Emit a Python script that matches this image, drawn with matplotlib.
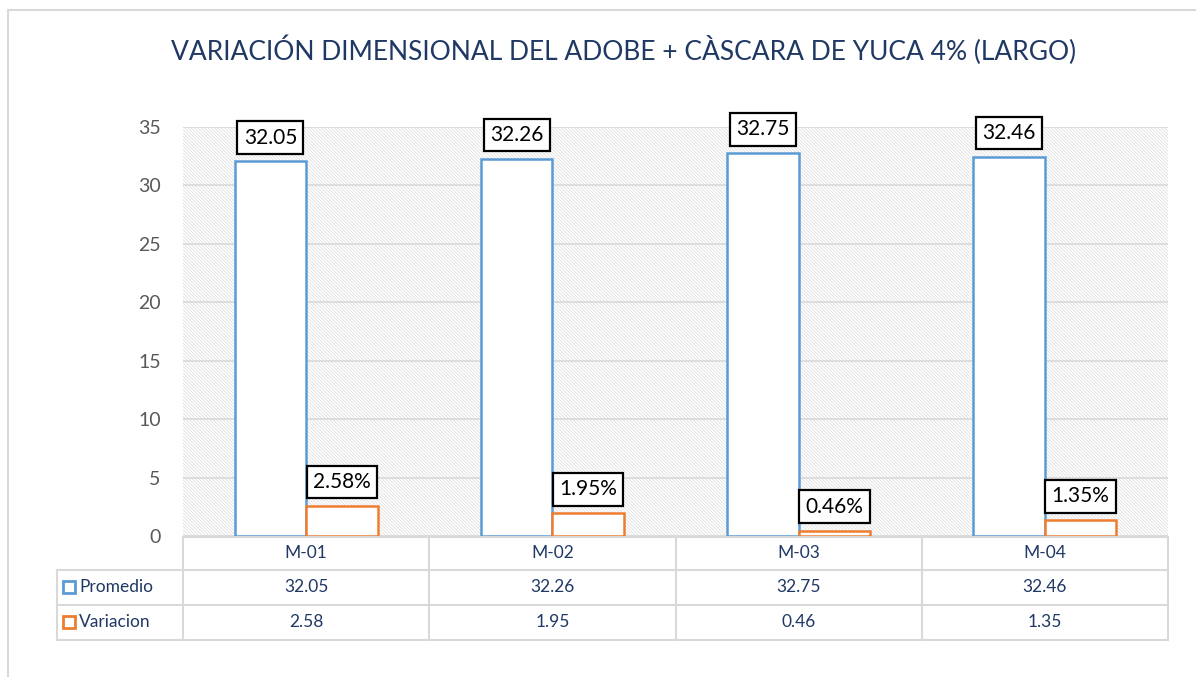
import matplotlib as mpl
import matplotlib.pyplot as plt
import matplotlib.patches as patches
import matplotlib.lines as lines
import numpy as np

# -----------------------------------------------------------------------------
# Data.
# -----------------------------------------------------------------------------

muestras = ["M-01", "M-02", "M-03", "M-04"]
promedio = [32.05, 32.26, 32.75, 32.46]
variacion = [2.58, 1.95, 0.46, 1.35]
series_names = ["Promedio", "Variacion"]

title = "VARIACIÓN DIMENSIONAL DEL ADOBE + CÀSCARA DE YUCA 4% (LARGO)"

blue = "#5B9BD5"
orange = "#ED7D31"
navy = "#1F3864"
grid = "#D9D9D9"

mpl.rcParams["font.family"] = ["Lato", "DejaVu Sans"]
mpl.rcParams["hatch.linewidth"] = 0.5

fig = plt.figure(figsize=(11.96, 6.77), dpi=100)
ax = fig.add_axes([183 / 1196, 1 - 536 / 677, 985 / 1196, 409 / 677])

# chart area border (left and top visible)
fig.patches.append(patches.Rectangle(
    (8 / 1196, -0.1), 1.2, 1 - 10 / 677 + 0.1,
    transform=fig.transFigure, fill=False, edgecolor=grid, linewidth=1.5))

# hatched plot area
ax.add_patch(patches.Rectangle(
    (0, 0), 1, 1, transform=ax.transAxes, facecolor="white",
    edgecolor="#DADADA", hatch="\\" * 10, linewidth=0, zorder=0))

x = np.arange(len(muestras))
w = 0.29
b1 = ax.bar(x - w / 2, promedio, w, facecolor="white", edgecolor=blue,
            linewidth=1.8, zorder=3)
b2 = ax.bar(x + w / 2, variacion, w, facecolor="white", edgecolor=orange,
            linewidth=1.8, zorder=3)

box = dict(boxstyle="square,pad=0.3", facecolor="white", edgecolor="black",
           linewidth=1.6)
for rect, v in zip(b1, promedio):
    ax.annotate("{:.2f}".format(v), (rect.get_x() + rect.get_width() / 2, v),
                xytext=(0, 10), textcoords="offset points", ha="center",
                va="bottom", fontsize=15, bbox=box, zorder=5)
for rect, v in zip(b2, variacion):
    ax.annotate("{:.2f}%".format(v), (rect.get_x() + rect.get_width() / 2, v),
                xytext=(0, 10), textcoords="offset points", ha="center",
                va="bottom", fontsize=15, bbox=box, zorder=5)

ax.set_xlim(-0.5, len(muestras) - 0.5)
ax.set_ylim(0, 35)
ax.set_yticks(range(0, 36, 5))
ax.tick_params(axis="y", length=0, pad=16, labelsize=14, labelcolor="#595959")
ax.set_xticks([])
ax.grid(axis="y", color=grid, linewidth=1.2, zorder=1)
ax.set_axisbelow(True)
for s in ax.spines.values():
    s.set_visible(False)

# -----------------------------------------------------------------------------
# Data table under the plot.
# -----------------------------------------------------------------------------

h = 409.0
row_lines = [-1 / h, -34 / h, -69 / h, -104 / h]
row_mid = [-17 / h, -51 / h, -86 / h]
left = -126 / 985

def tline(xs, ys):
    ax.add_line(lines.Line2D(xs, ys, transform=ax.transAxes, color=grid,
                             linewidth=1.5, clip_on=False))

tline([0, 1], [row_lines[0]] * 2)
for yl in row_lines[1:]:
    tline([left, 1], [yl] * 2)
for i in range(len(muestras) + 1):
    tline([i / len(muestras)] * 2, [row_lines[0], row_lines[3]])
tline([left] * 2, [row_lines[1], row_lines[3]])

for i, m in enumerate(muestras):
    xc = (i + 0.5) / len(muestras)
    ax.text(xc, row_mid[0], m, transform=ax.transAxes, ha="center",
            va="center", fontsize=12.5, color=navy)
    ax.text(xc, row_mid[1], "{:.2f}".format(promedio[i]),
            transform=ax.transAxes, ha="center", va="center",
            fontsize=12.5, color=navy)
    ax.text(xc, row_mid[2], "{:.2f}".format(variacion[i]),
            transform=ax.transAxes, ha="center", va="center",
            fontsize=12.5, color=navy)

for name, col, yc in zip(series_names, [blue, orange], row_mid[1:]):
    ax.plot([(69 - 183) / 985], [yc], marker="s", markersize=8,
            markerfacecolor="white", markeredgecolor=col, markeredgewidth=2,
            transform=ax.transAxes, clip_on=False)
    ax.text((79 - 183) / 985, yc, name, transform=ax.transAxes, ha="left",
            va="center", fontsize=12.5, color=navy)

fig.text(624 / 1196, 1 - 50 / 677, title, ha="center", va="center",
         fontsize=19, color=navy, fontstretch="condensed")

fig.savefig("out.png", dpi=100)
